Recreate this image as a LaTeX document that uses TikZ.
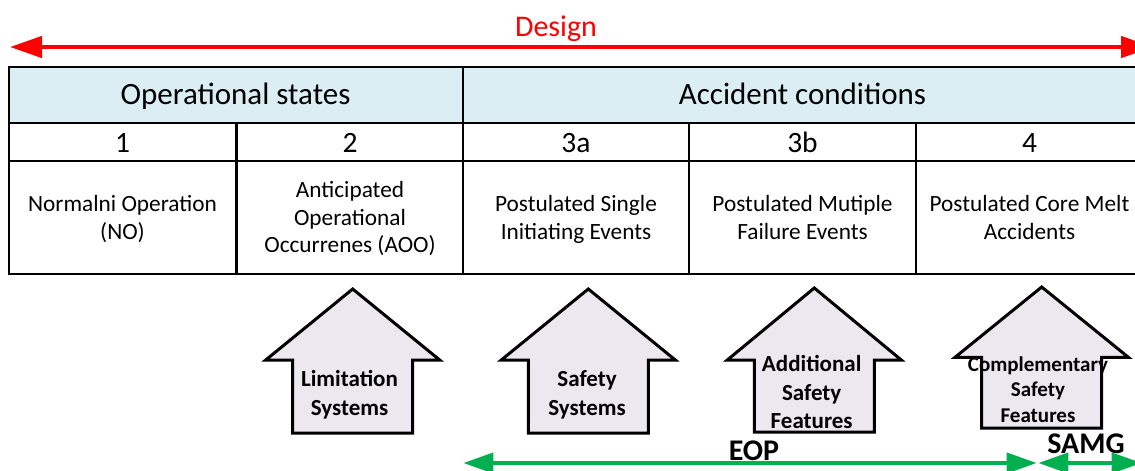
\documentclass[tikz,border=0pt]{standalone}
\usepackage{fontspec}
\setmainfont{Carlito}
\usetikzlibrary{arrows.meta}
\definecolor{hdrblue}{RGB}{218,238,243}
\definecolor{housefill}{RGB}{235,232,240}
\definecolor{dred}{RGB}{255,0,0}
\definecolor{dgreen}{RGB}{0,176,80}
\newcommand\houseshape[5]{%
  \draw[house] (#1,#2) -- ({#1+#5},#3) -- ({#1+60},#3) -- ({#1+60},#4) -- ({#1-60},#4) -- ({#1-60},#3) -- ({#1-#5},#3) -- cycle;}
\begin{document}
\begin{tikzpicture}[x=1pt,y=-1pt,
  gridline/.style={line width=2.2pt, draw=black},
  house/.style={draw=black, line width=3pt, fill=housefill, line join=miter},
  hdr/.style={font=\fontsize{31}{37}\selectfont, anchor=base, inner sep=0},
  num/.style={font=\fontsize{29.5}{35}\selectfont, anchor=base, inner sep=0},
  desc/.style={font=\fontsize{23.3}{27.3}\selectfont, align=center, anchor=base, inner sep=0},
  hlabel/.style={font=\bfseries\fontsize{23}{28.3}\selectfont, align=center, anchor=base, inner sep=0},
  hlabelsmall/.style={font=\bfseries\fontsize{21}{25.2}\selectfont, align=center, anchor=base, inner sep=0},
  designarrow/.style={draw=dred, line width=4.5pt, {Triangle[length=32pt,width=21pt]}-{Triangle[length=32pt,width=21pt]}},
  eoparrow/.style={draw=dgreen, line width=4pt, {Triangle[length=30pt,width=20pt]}-{Triangle[length=30pt,width=20pt]}},
  biglabel/.style={font=\bfseries\fontsize{30}{36}\selectfont, anchor=base, inner sep=0}
]
\useasboundingbox (0,0) rectangle (1135,471);
\clip (0,0) rectangle (1135,471);

% Design arrow
\coordinate (dL) at (10,47);
\coordinate (dR) at (1153,47);
\draw[designarrow] (dL) -- (dR);
\node[font=\fontsize{30}{36}\selectfont, text=dred, anchor=base, inner sep=0] (design) at (556,36.7) {Design};

% Table
\fill[hdrblue] (9,67) rectangle (1143,123);
\draw[gridline] (9,67) rectangle (1143,274);
\draw[gridline] (9,123) -- (1143,123);
\draw[gridline] (9,161) -- (1143,161);
\draw[gridline] (463,67) -- (463,274);
\draw[gridline] (236.5,123) -- (236.5,274);
\draw[gridline] (689,123) -- (689,274);
\draw[gridline] (916,123) -- (916,274);

\node[hdr] (opstates) at (235.5,104) {Operational states};
\node[hdr] (accond) at (802.5,104) {Accident conditions};

\node[num] (n1) at (122.5,152.3) {1};
\node[num] (n2) at (350,152.3) {2};
\node[num] (n3a) at (576,152.3) {3a};
\node[num] (n3b) at (802.5,152.3) {3b};
\node[num] (n4) at (1029.5,152.3) {4};

% multi-line nodes: base anchor = baseline of the last line
\node[desc] (d1) at (122.5,239) {Normalni Operation\\(NO)};
\node[desc] (d2) at (350,252.3) {Anticipated\\Operational\\Occurrenes (AOO)};
\node[desc] (d3a) at (576,239) {Postulated Single\\Initiating Events};
\node[desc] (d3b) at (802.5,239) {Postulated Mutiple\\Failure Events};
\node[desc] (d4) at (1029.5,239) {Postulated Core Melt\\Accidents};

% Houses
\houseshape{352.7}{289}{360}{433}{87}
\houseshape{588.3}{289}{360}{433}{87}
\houseshape{814.3}{288}{360}{432}{87}
\houseshape{1041.7}{287}{357.3}{428}{86.7}

\node[hlabel] (lim) at (349.5,415) {Limitation\\Systems};
\node[hlabel] (safe) at (587,415) {Safety\\Systems};
\node[hlabel] (add) at (811.7,428.3) {Additional\\Safety\\Features};
\node[hlabelsmall] (comp) at (1038,422.1) {Complementary\\Safety\\Features};

% EOP / SAMG
\coordinate (eL) at (463.3,463);
\coordinate (eR) at (1036.7,463);
\coordinate (sL) at (1038.3,463);
\coordinate (sR) at (1141.7,463);
\draw[eoparrow] (eL) -- (eR);
\draw[eoparrow] (sL) -- (sR);
\node[biglabel] (eop) at (754,460) {EOP};
\node[biglabel] (samg) at (1086,453.3) {SAMG};
\end{tikzpicture}
\end{document}
